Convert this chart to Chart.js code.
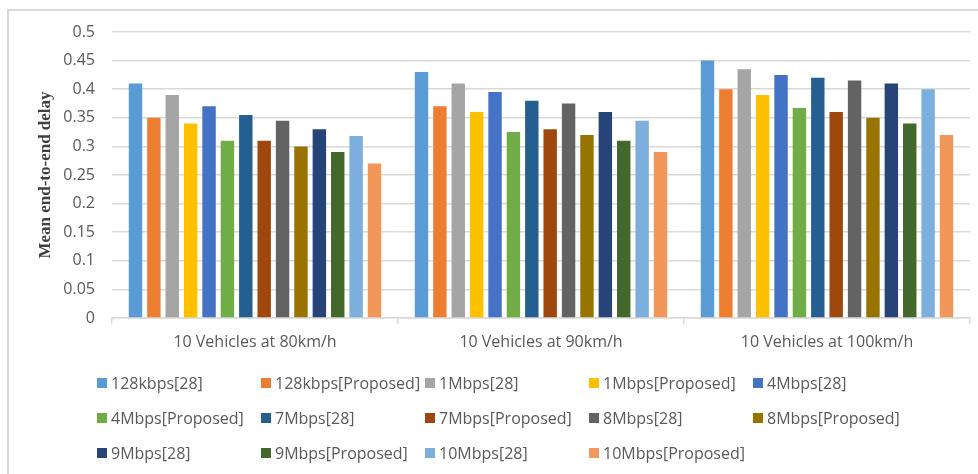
<!DOCTYPE html>
<html>
<head>
<meta charset="utf-8">
<script src="https://cdn.jsdelivr.net/npm/chart.js@4.4.0/dist/chart.umd.min.js"></script>
<style>
    html, body { margin: 0; padding: 0; background: #fff; }
    #wrap { position: relative; width: 978px; height: 474px; overflow: hidden; }
    #frame {
        position: absolute; left: 7px; top: 9px; width: 1000px; height: 500px;
        border-left: 2px solid #d9d9d9; border-top: 2px solid #d9d9d9;
    }
    #delay-chart { position: absolute; left: 0; top: 0; }
    #legend {
        position: absolute; left: 97px; top: 365px;
        display: grid; grid-template-columns: repeat(5, 164px); grid-auto-rows: 35px;
        font-family: 'Open Sans', sans-serif; font-size: 16px; color: #595959;
    }
    .legend-item { display: flex; align-items: center; white-space: nowrap; }
    .legend-box { width: 10px; height: 10px; margin-right: 4px; flex: none; }
</style>
</head>
<body>
<div id="wrap">
    <div id="frame"></div>
    <canvas id="delay-chart" width="978" height="474"></canvas>
    <div id="legend"></div>
</div>
<script>
// Scenarios on the x axis
const categories = ['10 Vehicles at 80km/h', '10 Vehicles at 90km/h', '10 Vehicles at 100km/h'];

// Mean end-to-end delay per data rate, [28] vs proposed
const rate128k_28 = [0.41, 0.43, 0.45];
const rate128k_prop = [0.35, 0.37, 0.40];
const rate1M_28 = [0.39, 0.41, 0.435];
const rate1M_prop = [0.34, 0.36, 0.39];
const rate4M_28 = [0.37, 0.395, 0.425];
const rate4M_prop = [0.31, 0.325, 0.367];
const rate7M_28 = [0.355, 0.38, 0.42];
const rate7M_prop = [0.31, 0.33, 0.36];
const rate8M_28 = [0.345, 0.375, 0.415];
const rate8M_prop = [0.30, 0.32, 0.35];
const rate9M_28 = [0.33, 0.36, 0.41];
const rate9M_prop = [0.29, 0.31, 0.34];
const rate10M_28 = [0.318, 0.345, 0.40];
const rate10M_prop = [0.27, 0.29, 0.32];

const seriesLabels = [
    '128kbps[28]', '128kbps[Proposed]', '1Mbps[28]', '1Mbps[Proposed]', '4Mbps[28]',
    '4Mbps[Proposed]', '7Mbps[28]', '7Mbps[Proposed]', '8Mbps[28]', '8Mbps[Proposed]',
    '9Mbps[28]', '9Mbps[Proposed]', '10Mbps[28]', '10Mbps[Proposed]'
];
const seriesValues = [
    rate128k_28, rate128k_prop, rate1M_28, rate1M_prop, rate4M_28,
    rate4M_prop, rate7M_28, rate7M_prop, rate8M_28, rate8M_prop,
    rate9M_28, rate9M_prop, rate10M_28, rate10M_prop
];
const seriesColors = [
    '#5b9bd5', '#ed7d31', '#a5a5a5', '#ffc000', '#4472c4',
    '#70ad47', '#255e91', '#9e480e', '#636363', '#997300',
    '#264478', '#43682b', '#7cafdd', '#f1975a'
];

const labelFont = { family: "'Open Sans', sans-serif", size: 16 };

const chart = new Chart(document.getElementById('delay-chart'), {
    type: 'bar',
    data: {
        labels: categories,
        datasets: seriesLabels.map((label, i) => ({
            label,
            data: seriesValues[i],
            backgroundColor: seriesColors[i],
            borderWidth: 0,
            categoryPercentage: 0.9,
            barPercentage: 0.73
        }))
    },
    options: {
        responsive: false,
        animation: false,
        layout: { padding: { left: 35, right: 8, top: 32, bottom: 122 } },
        plugins: {
            legend: { display: false },
            tooltip: { enabled: false }
        },
        scales: {
            x: {
                grid: { drawOnChartArea: false, drawTicks: true, tickLength: 6, color: '#d9d9d9', lineWidth: 1.5, offset: true },
                border: { color: '#d9d9d9', width: 1.5 },
                ticks: { color: '#595959', font: labelFont, padding: 9 },
                afterFit: scale => { scale.height = 34; }
            },
            y: {
                min: 0,
                max: 0.5,
                grid: { color: '#d9d9d9', lineWidth: 1.5, drawTicks: false },
                border: { display: false },
                ticks: { stepSize: 0.05, color: '#595959', font: labelFont, padding: 17,
                    callback: v => Math.round(v * 100) / 100 },
                title: {
                    display: true,
                    text: 'Mean end-to-end delay',
                    color: '#404040',
                    font: { family: "'Liberation Serif', serif", size: 17, weight: 'bold' },
                    padding: 0
                },
                afterFit: scale => { scale.width = 77; }
            }
        }
    }
});

// Legend laid out in a fixed 5-column grid
const legendEl = document.getElementById('legend');
chart.data.datasets.forEach(ds => {
    const item = document.createElement('div');
    item.className = 'legend-item';
    item.innerHTML = `<span class="legend-box" style="background:${ds.backgroundColor}"></span>${ds.label}`;
    legendEl.appendChild(item);
});
</script>
</body>
</html>
